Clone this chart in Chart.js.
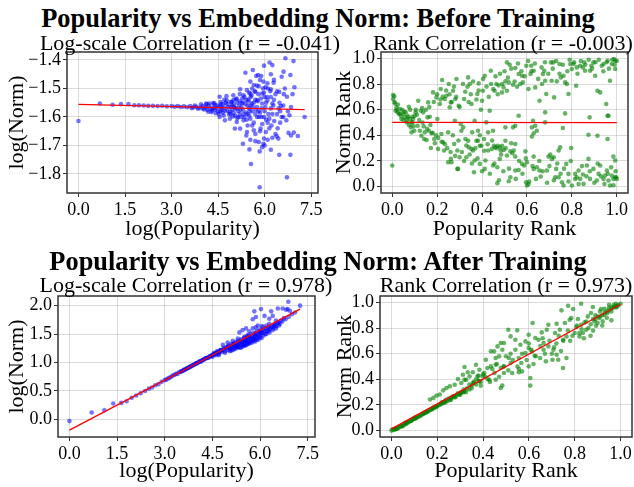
<!DOCTYPE html>
<html>
<head>
<meta charset="utf-8">
<script src="https://cdn.jsdelivr.net/npm/chart.js@4.4.0/dist/chart.umd.min.js"></script>
<style>
  html, body { margin: 0; padding: 0; background: #fff; }
  body { width: 634px; height: 487px; position: relative; overflow: hidden; font-family: "Liberation Serif", "Times New Roman", serif; color: #000; }
  canvas { position: absolute; }
  .txt { position: absolute; transform: translate(-50%, -50%); white-space: nowrap; line-height: 1; z-index: 2; }
  .sup { font-size: 26.4px; font-weight: bold; }
  .sub { font-size: 22px; }
</style>
</head>
<body>
<div class="txt sup" style="left:318px;top:18px">Popularity vs Embedding Norm: Before Training</div>
<div class="txt sub" style="left:190px;top:43px">Log-scale Correlation (r = -0.041)</div>
<div class="txt sub" style="left:503px;top:43px">Rank Correlation (r = -0.003)</div>
<div class="txt sup" style="left:318px;top:261px">Popularity vs Embedding Norm: After Training</div>
<div class="txt sub" style="left:186px;top:285px">Log-scale Correlation (r = 0.978)</div>
<div class="txt sub" style="left:506px;top:285px">Rank Correlation (r = 0.973)</div>

<canvas id="tl"></canvas>
<canvas id="tr"></canvas>
<canvas id="bl"></canvas>
<canvas id="br"></canvas>

<script>
// ---- data ----
const logTicksX = [0, 1.5, 3, 4.5, 6, 7.5];
const beforeLogTicksY = [-1.8, -1.7, -1.6, -1.5, -1.4];
const afterLogTicksY = [0, 0.5, 1, 1.5, 2];
const rankTicks = [0, 0.2, 0.4, 0.6, 0.8, 1];

// before training: log(popularity), log(norm)
const beforeLogPoints = [
  [0,-1.614],[0.69,-1.553],[1.1,-1.557],[1.37,-1.555],[1.61,-1.555],[1.8,-1.559],[1.95,-1.559],[2.1,-1.56],[2.25,-1.561],
  [2.4,-1.561],[2.55,-1.562],[2.7,-1.561],[2.85,-1.563],[3.0,-1.562],[3.1,-1.564],[3.2,-1.562],[3.3,-1.565],[3.4,-1.563],
  [3.5,-1.566],[3.6,-1.562],[3.7,-1.567],[3.8,-1.564],[3.9,-1.568],[4.0,-1.562],[4.0,-1.57],[4.1,-1.566],[4.15,-1.575],
  [4.2,-1.56],[4.25,-1.57],[4.3,-1.578],[4.35,-1.566],[4.4,-1.558],[4.4,-1.575],[4.45,-1.57],[4.5,-1.582],[4.55,-1.563],
  [4.6,-1.575],[4.65,-1.585],[4.7,-1.568],[4.75,-1.55],[4.8,-1.578],[4.85,-1.59],[4.9,-1.565],[4.95,-1.575],[5.0,-1.585],
  [5.0,-1.555],[5.05,-1.595],[5.1,-1.57],[5.15,-1.58],[5.2,-1.545],[5.2,-1.59],[5.25,-1.565],[5.3,-1.575],[5.35,-1.6],
  [5.4,-1.54],[5.4,-1.585],[5.45,-1.56],[5.5,-1.57],[5.5,-1.595],[5.55,-1.53],[5.6,-1.58],[5.65,-1.55],[5.7,-1.59],
  [5.75,-1.565],[5.8,-1.52],[5.85,-1.585],[5.9,-1.57],[5.95,-1.5],[6.0,-1.58],[6.05,-1.55],[6.1,-1.62],[6.2,-1.57],
  [6.3,-1.54],[6.4,-1.59],[6.5,-1.58],[6.6,-1.6],
  [6.67,-1.394],[6.93,-1.404],[6.16,-1.409],[6.25,-1.418],[5.98,-1.42],[5.62,-1.435],[5.38,-1.445],[6.61,-1.441],
  [6.55,-1.459],[6.83,-1.453],[5.79,-1.453],[5.73,-1.456],[5.89,-1.456],[6.2,-1.45],[5.54,-1.476],[5.96,-1.476],
  [6.09,-1.482],[6.29,-1.48],[6.96,-1.496],[5.65,-1.488],[5.81,-1.492],[6.03,-1.496],[6.2,-1.503],[6.47,-1.512],
  [6.72,-1.529],[5.21,-1.503],[5.43,-1.506],[5.7,-1.512],[5.92,-1.518],[5.54,-1.518],[5.32,-1.524],[4.99,-1.524],
  [4.77,-1.527],[4.55,-1.529],[5.1,-1.535],[5.48,-1.539],[5.76,-1.541],[6.09,-1.541],[4.93,-1.547],[5.26,-1.551],
  [5.59,-1.553],[5.92,-1.553],[6.25,-1.553],[4.34,-1.551],[4.12,-1.553],[4.66,-1.555],[6.52,-1.562],[6.85,-1.565],
  [7.29,-1.6],[6.8,-1.594],[6.7,-1.612],[5.98,-1.6],[6.15,-1.606],[6.31,-1.614],[5.76,-1.6],[5.54,-1.606],[5.32,-1.612],
  [5.1,-1.618],[4.88,-1.606],[4.72,-1.612],[4.55,-1.6],[5.04,-1.641],[5.21,-1.641],[5.43,-1.653],[5.65,-1.647],
  [5.87,-1.641],[6.04,-1.653],[6.25,-1.673],[6.39,-1.668],[6.44,-1.676],[6.77,-1.656],[6.94,-1.655],[7.07,-1.667],
  [6.85,-1.665],[5.41,-1.665],[5.54,-1.68],[5.3,-1.694],[5.7,-1.685],[5.81,-1.688],[5.98,-1.676],[5.96,-1.694],
  [5.92,-1.706],[5.84,-1.721],[5.51,-1.714],[6.2,-1.715],[6.47,-1.733],[6.83,-1.733],[5.56,-1.765],[6.72,-1.812],
  [5.84,-1.847],
  [4.22,-1.553],[4.28,-1.583],[4.38,-1.552],[4.48,-1.56],[4.52,-1.59],[4.58,-1.548],[4.62,-1.567],[4.68,-1.595],
  [4.72,-1.578],[4.78,-1.542],[4.82,-1.565],[4.88,-1.582],[4.92,-1.548],[4.98,-1.598],[5.02,-1.565],[5.08,-1.538],
  [5.12,-1.605],[5.18,-1.56],[5.22,-1.575],[5.28,-1.535],[5.32,-1.59],[5.38,-1.555],[5.42,-1.61],[5.48,-1.545],
  [5.52,-1.58],[5.58,-1.525],[5.62,-1.565],[5.68,-1.51],[5.72,-1.575],[5.78,-1.545],[5.82,-1.6],[5.88,-1.535],
  [5.92,-1.625],[5.98,-1.515],[6.02,-1.565],[6.08,-1.53],[6.12,-1.59],[6.18,-1.51],[6.22,-1.63],[6.28,-1.56],
  [6.35,-1.52],[6.42,-1.64],[6.48,-1.55],[6.55,-1.6],[6.62,-1.52],[3.95,-1.556],[4.05,-1.574],[3.85,-1.571],
  [3.75,-1.56],[3.65,-1.569],[4.12,-1.556],[4.18,-1.582],[4.32,-1.571],[4.42,-1.587],[4.58,-1.58],
  [4.6,-1.555],[4.7,-1.54],[4.8,-1.555],[4.9,-1.59],[5.0,-1.54],[5.05,-1.57],[5.12,-1.55],[5.2,-1.52],[5.25,-1.6],
  [5.3,-1.55],[5.35,-1.53],[5.45,-1.59],[5.5,-1.515],[5.55,-1.56],[5.6,-1.5],[5.65,-1.62],[5.7,-1.54],[5.75,-1.49],
  [5.8,-1.58],[5.85,-1.47],[5.9,-1.6],[6.0,-1.53],[6.05,-1.61],[6.1,-1.5],[6.15,-1.64],[6.2,-1.53],[6.25,-1.59],
  [6.3,-1.47],[6.35,-1.66],[6.4,-1.51],[6.45,-1.57],[6.5,-1.62],[6.6,-1.56],[6.65,-1.5],[6.75,-1.58],[6.9,-1.52],
  [5.6,-1.63],[5.7,-1.66],[5.85,-1.65],[6.0,-1.7],[6.1,-1.68],[5.45,-1.63],[5.15,-1.6],[4.95,-1.56]
];
const beforeLogFitX = [0, 7.29];
const beforeLogFitY = [-1.556, -1.574];

// before training: popularity rank, norm rank
const beforeRankPoints = [
  [0.0,0.164],[0.004,0.714],[0.009,0.704],[0.004,0.683],[0.012,0.649],[0.019,0.618],[0.015,0.592],[0.024,0.579],
  [0.03,0.566],[0.034,0.605],[0.039,0.553],[0.041,0.527],[0.049,0.566],[0.053,0.584],[0.056,0.54],[0.064,0.519],
  [0.068,0.553],[0.074,0.623],[0.079,0.527],[0.086,0.501],[0.089,0.545],[0.093,0.527],[0.083,0.462],[0.086,0.423],
  [0.098,0.436],[0.104,0.579],[0.113,0.475],[0.116,0.67],[0.123,0.436],[0.127,0.592],[0.13,0.397],[0.133,0.613],
  [0.138,0.579],[0.142,0.371],[0.145,0.423],[0.153,0.364],[0.157,0.54],[0.16,0.657],[0.163,0.436],[0.167,0.545],
  [0.172,0.301],[0.175,0.416],[0.182,0.735],[0.187,0.371],[0.19,0.338],[0.197,0.696],[0.201,0.527],[0.204,0.294],
  [0.212,0.644],[0.216,0.761],[0.219,0.41],[0.222,0.831],[0.227,0.345],[0.231,0.281],[0.234,0.683],[0.241,0.709],
  [0.249,0.423],[0.252,0.8],[0.256,0.618],[0.261,0.657],[0.264,0.19],[0.271,0.748],[0.276,0.332],[0.279,0.514],
  [0.281,0.683],[0.286,0.839],[0.29,0.281],[0.293,0.138],[0.296,0.631],[0.305,0.488],[0.308,0.436],[0.316,0.462],
  [0.32,0.683],[0.326,0.371],[0.33,0.229],[0.335,0.779],[0.338,0.852],[0.341,0.306],[0.345,0.8],[0.353,0.644],
  [0.356,0.423],[0.36,0.281],[0.364,0.112],[0.367,0.514],[0.375,0.358],[0.379,0.722],[0.382,0.436],[0.385,0.805],
  [0.39,0.177],[0.397,0.319],[0.4,0.67],[0.404,0.748],[0.409,0.371],[0.412,0.865],[0.415,0.203],[0.419,0.501],
  [0.427,0.423],[0.434,0.592],[0.439,0.904],[0.444,0.294],[0.449,0.436],[0.453,0.319],[0.456,0.748],[0.464,0.8],
  [0.468,0.151],[0.474,0.79],[0.479,0.306],[0.468,0.026],
  [0.249,0.19],[0.261,0.216],[0.29,0.138],[0.3,0.229],[0.338,0.358],[0.353,0.294],[0.367,0.203],[0.382,0.358],
  [0.39,0.319],[0.412,0.138],[0.427,0.281],[0.449,0.164],[0.459,0.306],[0.47,0.319],[0.479,0.216],[0.483,0.281],
  [0.511,0.969],[0.523,0.951],[0.548,0.925],[0.563,0.878],[0.578,0.865],[0.57,0.8],[0.556,0.779],[0.538,0.795],
  [0.519,0.813],[0.504,0.821],[0.496,0.774],[0.489,0.735],[0.511,0.748],[0.582,0.813],[0.597,0.943],[0.619,0.943],
  [0.616,0.878],[0.607,0.761],[0.63,0.904],[0.637,0.774],[0.656,0.67],[0.667,0.8],[0.671,0.878],[0.677,0.904],
  [0.681,0.826],[0.686,0.722],[0.707,0.969],[0.717,0.969],[0.71,0.826],[0.721,0.696],[0.733,0.821],[0.745,0.956],
  [0.751,0.852],[0.763,0.865],[0.77,0.813],[0.778,0.8],[0.785,0.722],[0.793,0.956],[0.8,0.917],[0.807,0.956],
  [0.819,0.787],[0.822,0.93],[0.837,0.943],[0.849,0.93],[0.855,0.969],[0.859,0.904],[0.881,0.904],[0.887,0.943],
  [0.896,0.969],[0.904,0.865],[0.914,0.748],[0.926,0.735],[0.933,0.943],[0.941,0.956],[0.953,0.644],[0.959,0.982],
  [0.963,0.553],[0.97,0.826],[0.978,0.956],[0.988,0.995],[0.993,0.917],[0.993,0.982],
  [0.563,0.553],[0.548,0.475],[0.538,0.462],[0.504,0.462],[0.627,0.514],[0.622,0.462],[0.637,0.475],[0.644,0.436],
  [0.63,0.416],[0.622,0.39],[0.681,0.579],[0.681,0.501],[0.76,0.457],[0.77,0.571],[0.879,0.54],[0.874,0.405],
  [0.914,0.397],[0.959,0.371],[0.959,0.553],
  [0.504,0.358],[0.53,0.338],[0.548,0.332],[0.489,0.319],[0.496,0.286],[0.526,0.275],[0.541,0.281],[0.511,0.242],
  [0.548,0.234],[0.593,0.275],[0.63,0.234],[0.6,0.19],[0.578,0.177],[0.588,0.164],[0.563,0.13],[0.548,0.125],
  [0.526,0.073],[0.519,0.042],[0.596,0.034],[0.607,0.021],[0.6,0.008],[0.63,0.138],[0.644,0.151],[0.656,0.125],
  [0.661,0.078],[0.689,0.125],[0.696,0.234],[0.704,0.249],[0.711,0.216],[0.719,0.229],[0.726,0.073],[0.73,0.138],
  [0.741,0.281],[0.748,0.306],[0.741,0.073],[0.756,0.034],[0.763,0.008],[0.775,0.177],[0.785,0.099],[0.797,0.301],
  [0.8,0.008],[0.815,0.099],[0.822,0.073],[0.83,0.125],[0.837,0.06],[0.849,0.094],[0.852,0.021],[0.867,0.164],
  [0.874,0.216],[0.881,0.06],[0.896,0.138],[0.911,0.047],[0.919,0.099],[0.926,0.164],[0.941,0.06],[0.948,0.086],
  [0.956,0.125],[0.963,0.047],[0.97,0.008],[0.978,0.086],[0.985,0.06],[0.993,0.073],[0.993,0.203],[0.985,0.234],
  [0.997,0.073],
  [0.105,0.6],[0.11,0.56],[0.12,0.52],[0.135,0.5],[0.14,0.47],[0.15,0.6],[0.155,0.45],[0.165,0.62],[0.17,0.48],
  [0.18,0.42],[0.185,0.66],[0.195,0.4],[0.2,0.72],[0.205,0.38],[0.215,0.68],[0.22,0.35],[0.225,0.7],[0.235,0.33],
  [0.24,0.75],[0.245,0.3],[0.255,0.72],[0.26,0.27],[0.265,0.66],[0.27,0.4],[0.275,0.78],[0.28,0.24],[0.285,0.7],
  [0.295,0.36],[0.3,0.62],[0.31,0.27],[0.315,0.8],[0.32,0.2],[0.325,0.74],[0.33,0.32],[0.34,0.66],[0.345,0.25],
  [0.35,0.72],[0.355,0.18],[0.36,0.82],[0.37,0.3],[0.375,0.68],[0.38,0.22],[0.385,0.75],[0.39,0.4],[0.395,0.6],
  [0.4,0.12],[0.405,0.84],[0.41,0.28],[0.42,0.78],[0.425,0.33],[0.43,0.7],[0.435,0.1],[0.44,0.8],[0.445,0.36],
  [0.45,0.76],[0.455,0.18],[0.46,0.86],[0.465,0.3],[0.47,0.72],[0.475,0.05],[0.48,0.88],[0.485,0.25],[0.49,0.8],
  [0.495,0.12],[0.5,0.9],[0.505,0.3],[0.515,0.85],[0.52,0.14],[0.53,0.92],[0.535,0.26],[0.545,0.82],[0.55,0.06],
  [0.56,0.96],[0.565,0.2],[0.575,0.9],[0.58,0.1],[0.59,0.86],[0.595,0.22],[0.605,0.98],[0.61,0.04],[0.62,0.9],
  [0.625,0.16],[0.635,0.96],[0.64,0.06],[0.65,0.84],[0.655,0.2],[0.665,0.93],[0.67,0.12],[0.68,0.97],[0.69,0.03],
  [0.695,0.88],[0.7,0.16],[0.715,0.92],[0.72,0.05],[0.73,0.98],[0.735,0.18],[0.745,0.88],[0.75,0.1],[0.76,0.95],
  [0.765,0.14],[0.78,0.9],[0.785,0.04],[0.79,0.99],[0.795,0.2],[0.81,0.97],[0.815,0.06],[0.825,0.88],[0.83,0.02],
  [0.84,0.98],[0.845,0.16],[0.86,0.95],[0.865,0.08],[0.875,0.99],[0.88,0.12],[0.89,0.92],[0.9,0.03],[0.905,0.97],
  [0.915,0.18],[0.92,0.99],[0.93,0.08],[0.94,0.9],[0.945,0.02],[0.955,0.97],[0.96,0.1],[0.965,0.92],[0.975,0.15],
  [0.98,0.99],[0.985,0.01],[0.99,0.95],[0.995,0.12],[1.0,0.98],[1.0,0.06],
  [0.01,0.66],[0.02,0.6],[0.025,0.64],[0.035,0.57],[0.045,0.6],[0.05,0.52],[0.06,0.58],[0.065,0.5],[0.07,0.54],
  [0.075,0.48],[0.08,0.6],[0.09,0.5],[0.095,0.47],[0.1,0.55]
];
const beforeRankFitX = [0, 1];
const beforeRankFitY = [0.5015, 0.4985];

// after training: log(popularity), log(norm)
const afterLogPoints = [
  [0,-0.03],[0.7,0.12],[1.1,0.16],[1.38,0.28],[1.63,0.29],[1.8,0.32],[1.96,0.38],[2.1,0.42],[2.24,0.46],[2.38,0.5],
  [2.5,0.54],[2.6,0.56],[2.7,0.6],[2.8,0.62],[2.9,0.66],[3.0,0.69],[3.05,0.7],[3.1,0.72],[3.15,0.73],[3.2,0.75],
  [3.25,0.77],[3.3,0.78],[3.35,0.8],[3.4,0.8],[3.45,0.83],[3.5,0.84],[3.55,0.85],[3.6,0.87],[3.65,0.88],[3.7,0.9],
  [3.75,0.91],[3.8,0.93],[3.85,0.94],[3.9,0.96],[3.95,0.97],[4.0,0.99],[4.05,1.0],[4.1,1.02],[4.15,1.02],[4.2,1.05],
  [4.25,1.06],[4.3,1.08],[4.35,1.08],[4.4,1.1],[4.45,1.12],[4.5,1.13],[4.55,1.14],[4.6,1.16],[4.65,1.17],[4.7,1.18],
  [4.5,1.1],[4.55,1.17],[4.6,1.13],[4.65,1.2],[4.7,1.15],[4.75,1.22],[4.8,1.18],[4.85,1.25],[4.9,1.2],[4.95,1.27],
  [5.0,1.22],[5.0,1.3],[5.05,1.25],[5.1,1.33],[5.1,1.21],[5.15,1.28],[5.2,1.35],[5.2,1.24],[5.25,1.3],[5.3,1.38],
  [5.3,1.27],[5.35,1.33],[5.4,1.41],[5.4,1.26],[5.45,1.36],[5.5,1.3],[5.5,1.44],[5.55,1.38],[5.6,1.32],[5.6,1.47],
  [5.65,1.41],[5.7,1.35],[5.7,1.5],[5.75,1.44],[5.8,1.38],[5.8,1.52],[5.85,1.46],[5.9,1.41],[5.9,1.56],[5.95,1.49],
  [6.0,1.44],[6.0,1.58],[6.05,1.52],[6.1,1.47],[6.1,1.62],[6.15,1.55],[6.2,1.5],[6.2,1.65],[6.25,1.58],[6.3,1.53],
  [6.35,1.62],[6.4,1.57],[6.45,1.66],[6.5,1.6],[6.55,1.7],[6.6,1.65],[6.7,1.72],[6.8,1.76],[6.9,1.8],[7.0,1.85],
  [7.1,1.88],[7.26,2.0],
  [6.89,2.07],[6.56,1.95],[6.71,1.95],[6.82,1.93],[6.94,1.91],[6.03,1.94],[5.82,1.9],[6.35,1.9],[5.87,1.8],
  [5.77,1.76],[6.14,1.82],[6.4,1.82],[6.5,1.74],[6.29,1.77],[6.45,1.64],[6.29,1.68],[6.06,1.64],[5.87,1.62],
  [5.77,1.6],[5.56,1.6],[5.45,1.57],[5.66,1.55],[6.0,1.55],[5.61,1.48],[5.35,1.53],[5.51,1.45],[5.3,1.42],
  [5.77,1.42],[5.14,1.38],[5.35,1.34],[4.98,1.35],[5.19,1.31],[4.83,1.31],[5.04,1.25],[4.77,1.22],[5.56,1.39],
  [5.87,1.47],[5.51,1.31],[5.93,1.65],[6.87,1.94],[5.45,1.36],[5.24,1.28],[5.61,1.34],
  [3.52,0.84],[3.58,0.86],[3.62,0.87],[3.68,0.89],[3.72,0.9],[3.78,0.92],[3.82,0.93],[3.88,0.95],[3.92,0.96],
  [3.98,0.98],[4.02,0.99],[4.08,1.01],[4.12,1.02],[4.18,1.04],[4.22,1.05],[4.28,1.07],[4.32,1.08],[4.38,1.09],
  [4.42,1.11],[4.48,1.12],[4.52,1.14],[4.58,1.15],[4.62,1.17],[4.68,1.18],[4.72,1.2],[4.78,1.21],[4.82,1.22],
  [4.88,1.24],[4.92,1.25],[4.98,1.27],
  [5.02,1.28],[5.06,1.24],[5.08,1.3],[5.12,1.27],[5.16,1.32],[5.18,1.26],[5.22,1.3],[5.26,1.35],[5.28,1.29],
  [5.32,1.33],[5.34,1.28],[5.38,1.37],[5.42,1.32],[5.44,1.39],[5.46,1.3],[5.52,1.36],[5.54,1.42],[5.58,1.35],
  [5.62,1.4],[5.64,1.45],[5.66,1.36],[5.68,1.43],[5.72,1.39],[5.74,1.47],[5.78,1.41],[5.82,1.45],[5.84,1.5],
  [5.86,1.4],[5.88,1.52],[5.92,1.44],[5.96,1.53],[5.98,1.47],[6.02,1.5],[6.04,1.56],[6.08,1.52],[6.12,1.57],
  [6.16,1.5],[6.18,1.6],[6.22,1.54],[6.26,1.62],[6.28,1.56],[6.32,1.6],[6.38,1.64],[6.42,1.6],[6.48,1.68],
  [6.52,1.64],[6.58,1.7],[6.62,1.68],[6.66,1.74],[6.75,1.78],[5.05,1.2],[5.25,1.25],[5.45,1.28],[5.65,1.33],
  [5.85,1.37],[6.05,1.43],[4.9,1.17],[4.7,1.13],[5.15,1.22],[5.35,1.26],[5.55,1.3],[5.75,1.35],[5.95,1.4]
];
const afterLogFitX = [0, 7.26];
const afterLogFitY = [-0.19, 1.94];

// after training: popularity rank, norm rank
const afterRankPoints = [
  [0.0,0.0],[0.01,0.005],[0.02,0.01],[0.03,0.02],[0.04,0.03],[0.05,0.035],[0.06,0.05],[0.07,0.06],[0.08,0.07],
  [0.09,0.08],[0.1,0.09],[0.11,0.1],[0.12,0.11],[0.13,0.12],[0.14,0.13],[0.15,0.14],[0.16,0.15],[0.17,0.16],
  [0.18,0.17],[0.19,0.18],[0.2,0.19],[0.21,0.2],[0.22,0.21],[0.23,0.22],[0.24,0.24],[0.25,0.25],[0.26,0.24],
  [0.27,0.27],[0.28,0.26],[0.29,0.29],[0.3,0.28],[0.31,0.3],[0.32,0.31],[0.33,0.33],[0.34,0.32],[0.35,0.35],
  [0.36,0.37],[0.37,0.36],[0.38,0.39],[0.39,0.38],[0.045,0.04],[0.085,0.08],[0.125,0.115],[0.165,0.16],
  [0.205,0.2],[0.245,0.23],[0.285,0.28],[0.015,0.01],[0.055,0.045],[0.095,0.09],[0.135,0.13],[0.175,0.165],
  [0.005,0.01],[0.025,0.015],[0.035,0.03],[0.065,0.055],[0.075,0.07],[0.105,0.095],[0.115,0.11],[0.145,0.14],
  [0.155,0.145],[0.185,0.18],[0.195,0.185],[0.215,0.21],[0.225,0.22],[0.235,0.22],[0.255,0.24],[0.265,0.26],
  [0.275,0.26],[0.295,0.28],[0.305,0.3],[0.315,0.3],[0.02,0.02],[0.06,0.06],[0.1,0.1],[0.14,0.135],[0.18,0.175],
  [0.22,0.22],[0.26,0.255],[0.3,0.29],[0.045,0.035],[0.065,0.06],[0.085,0.075],[0.105,0.1],[0.155,0.15],
  [0.195,0.19],[0.235,0.235],[0.275,0.27],[0.315,0.32],[0.325,0.3],
  [0.771,0.974],[0.793,0.948],[0.828,0.99],[0.742,0.938],[0.879,0.964],[0.915,0.948],[0.95,0.982],[0.965,0.964],
  [0.979,0.99],[0.986,0.969],[0.943,0.917],[0.929,0.904],[0.907,0.878],[0.886,0.852],[0.871,0.917],[0.857,0.891],
  [0.843,0.844],[0.828,0.826],[0.85,0.787],[0.821,0.735],[0.8,0.761],[0.778,0.865],[0.757,0.839],[0.735,0.787],
  [0.721,0.834],[0.714,0.761],[0.749,0.709],[0.764,0.735],[0.785,0.878],[0.814,0.87],[0.807,0.808],[0.836,0.761],
  [0.869,0.74],[0.893,0.818],[0.922,0.852],[0.685,0.826],[0.678,0.787],[0.656,0.766],[0.642,0.709],[0.664,0.683],
  [0.685,0.657],[0.707,0.631],[0.721,0.592],[0.703,0.553],[0.674,0.54],[0.628,0.722],[0.616,0.839],[0.599,0.748],
  [0.585,0.696],[0.599,0.644],[0.613,0.618],[0.625,0.584],[0.585,0.605],[0.563,0.67],[0.541,0.709],[0.549,0.782],
  [0.51,0.787],[0.541,0.631],[0.556,0.566],[0.567,0.527],[0.556,0.481],[0.57,0.462],[0.606,0.351],[0.606,0.41],
  [0.599,0.501],[0.649,0.566],[0.664,0.631],[0.749,0.488],[0.728,0.553],[0.764,0.566],[0.52,0.735],[0.491,0.683],
  [0.484,0.631],[0.477,0.683],[0.463,0.657],[0.448,0.618],[0.434,0.618],[0.455,0.566],[0.47,0.579],[0.513,0.566],
  [0.52,0.527],[0.491,0.501],[0.477,0.488],[0.527,0.449],[0.491,0.449],[0.455,0.514],[0.434,0.501],[0.412,0.553],
  [0.419,0.488],[0.405,0.449],[0.384,0.475],[0.369,0.514],[0.376,0.423],[0.355,0.455],[0.341,0.423],[0.319,0.496],
  [0.326,0.397],[0.333,0.455],[0.312,0.436],[0.305,0.371],[0.29,0.403],[0.276,0.358],[0.255,0.345],[0.24,0.332],
  [0.226,0.314],[0.211,0.281],[0.197,0.273],[0.183,0.255],[0.168,0.242],[0.319,0.397],[0.355,0.371],[0.384,0.384],
  [0.398,0.423],[0.427,0.397],[0.455,0.397],[0.477,0.332],[0.484,0.351],[0.556,0.455],
  [0.88,0.87],[0.9,0.89],[0.92,0.9],[0.93,0.92],[0.94,0.93],[0.95,0.94],[0.96,0.95],[0.97,0.96],[0.98,0.97],
  [0.99,0.98],[1.0,0.99],[0.97,0.98],[0.95,0.96],[0.91,0.93],[0.89,0.9],
  [0.35,0.33],[0.37,0.4],[0.39,0.35],[0.41,0.42],[0.43,0.38],[0.45,0.45],[0.47,0.42],[0.49,0.5],[0.51,0.47],
  [0.53,0.55],[0.55,0.5],[0.57,0.6],[0.59,0.55],[0.61,0.63],[0.63,0.58],[0.65,0.66],[0.67,0.6],[0.69,0.7],
  [0.71,0.65],[0.73,0.74],[0.75,0.7],[0.77,0.78],[0.79,0.74],[0.81,0.82],[0.83,0.79],[0.85,0.85],[0.87,0.83],
  [0.89,0.87],[0.91,0.89],[0.93,0.95],[0.96,0.93],[0.98,0.96],[0.6,0.68],[0.62,0.52],[0.66,0.72],[0.7,0.6],
  [0.72,0.68],[0.74,0.62],[0.78,0.7],[0.82,0.76],[0.84,0.72],[0.86,0.8],[0.88,0.78],[0.9,0.84],[0.92,0.82],
  [0.94,0.88],[0.96,0.86],[0.5,0.58],[0.52,0.6],[0.46,0.52],[0.44,0.48],[0.42,0.4],[0.4,0.44],[0.38,0.43],
  [0.36,0.38],[0.34,0.36]
];
const afterRankFitX = [0, 1];
const afterRankFitY = [0.013, 0.986];

// ---- drawing ----
const FONT = '"Liberation Serif", "Times New Roman", serif';
const BLUE = 'rgba(0, 0, 255, 0.55)';
const GREEN = 'rgba(0, 128, 0, 0.6)';

// box around the plot area, like matplotlib spines
const framePlugin = {
  id: 'frame',
  afterDraw(chart) {
    const { ctx, chartArea: a } = chart;
    ctx.save();
    ctx.strokeStyle = '#333';
    ctx.lineWidth = 1.5;
    ctx.strokeRect(a.left, a.top, a.right - a.left, a.bottom - a.top);
    ctx.restore();
  }
};

function fmt(v) {
  const s = v.toFixed(1);
  return v < 0 ? '\u2212' + s.slice(1) : s;
}

function axis(ticks, range, title, fit) {
  return {
    type: 'linear',
    min: range[0],
    max: range[1],
    afterBuildTicks: s => { s.ticks = ticks.map(v => ({ value: v })); },
    afterFit: fit,
    ticks: { font: { family: FONT, size: 18 }, color: '#000', padding: 2, maxRotation: 0, autoSkip: false, callback: v => fmt(v) },
    grid: { color: 'rgba(176,176,176,0.45)', lineWidth: 1, tickColor: '#333', tickLength: 4 },
    border: { display: false },
    title: { display: true, text: title, color: '#000', font: { family: FONT, size: 22 }, padding: { top: 4, bottom: 4 } }
  };
}

// box = plot area in page pixels
function panel(id, box, p) {
  const PT = 16, PR = 22;
  const cv = document.getElementById(id);
  const w = p.yw + (box.r - box.l) + PR;
  const h = PT + (box.b - box.t) + p.xh;
  cv.width = w; cv.height = h;
  cv.style.width = w + 'px'; cv.style.height = h + 'px';
  cv.style.left = (box.l - p.yw) + 'px';
  cv.style.top = (box.t - PT) + 'px';

  new Chart(cv.getContext('2d'), {
    type: 'scatter',
    data: {
      datasets: [
        {
          data: p.fitX.map((x, i) => ({ x: x, y: p.fitY[i] })),
          showLine: true, borderColor: '#ff0000', borderWidth: 1.3, pointRadius: 0
        },
        {
          data: p.points.map(d => ({ x: d[0], y: d[1] })),
          backgroundColor: p.color, borderWidth: 0, pointRadius: 2.3
        }
      ]
    },
    options: {
      responsive: false,
      animation: false,
      devicePixelRatio: 1,
      layout: { padding: { top: PT, right: PR, left: 0, bottom: 0 } },
      plugins: { legend: { display: false }, tooltip: { enabled: false } },
      scales: {
        x: axis(p.xTicks, p.xRange, p.xTitle, s => { s.height = p.xh; }),
        y: axis(p.yTicks, p.yRange, p.yTitle, s => { s.width = p.yw; })
      }
    },
    plugins: [framePlugin]
  });
}

panel('tl', { l: 67, r: 318, t: 52, b: 193 }, {
  yw: 67, xh: 53, points: beforeLogPoints, fitX: beforeLogFitX, fitY: beforeLogFitY, color: BLUE,
  xTicks: logTicksX, yTicks: beforeLogTicksY, xRange: [-0.37, 7.72], yRange: [-1.867, -1.372],
  xTitle: 'log(Popularity)', yTitle: 'log(Norm)'
});
panel('tr', { l: 381, r: 628, t: 52, b: 193 }, {
  yw: 54, xh: 53, points: beforeRankPoints, fitX: beforeRankFitX, fitY: beforeRankFitY, color: GREEN,
  xTicks: rankTicks, yTicks: rankTicks, xRange: [-0.05, 1.05], yRange: [-0.05, 1.05],
  xTitle: 'Popularity Rank', yTitle: 'Norm Rank'
});
panel('bl', { l: 58, r: 315, t: 296, b: 437 }, {
  yw: 58, xh: 51, points: afterLogPoints, fitX: afterLogFitX, fitY: afterLogFitY, color: BLUE,
  xTicks: logTicksX, yTicks: afterLogTicksY, xRange: [-0.36, 7.73], yRange: [-0.31, 2.17],
  xTitle: 'log(Popularity)', yTitle: 'log(Norm)'
});
panel('br', { l: 380, r: 632, t: 296, b: 437 }, {
  yw: 52, xh: 51, points: afterRankPoints, fitX: afterRankFitX, fitY: afterRankFitY, color: GREEN,
  xTicks: rankTicks, yTicks: rankTicks, xRange: [-0.05, 1.05], yRange: [-0.05, 1.05],
  xTitle: 'Popularity Rank', yTitle: 'Norm Rank'
});
</script>
</body>
</html>
